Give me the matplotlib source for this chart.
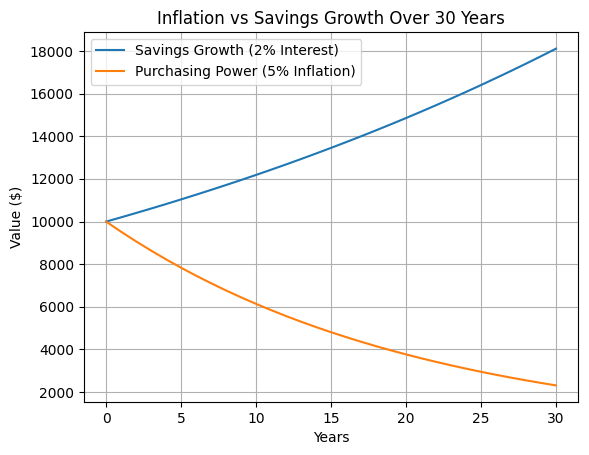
import matplotlib
matplotlib.use("Agg")
import matplotlib.pyplot as plt

years = list(range(0, 31))
savings = [10000, 10200, 10404, 10612, 10824, 11041, 11262, 11487, 11717, 11951,
           12190, 12434, 12682, 12936, 13195, 13459, 13728, 14002, 14282, 14568,
           14859, 15157, 15460, 15769, 16084, 16406, 16734, 17069, 17410, 17758, 18114]
purchasing = [10000, 9524, 9070, 8638, 8227, 7835, 7462, 7107, 6768, 6446,
              6139, 5847, 5568, 5303, 5051, 4810, 4581, 4363, 4155, 3957,
              3769, 3589, 3418, 3256, 3101, 2953, 2812, 2678, 2551, 2429, 2314]

fig, ax = plt.subplots(figsize=(5.89, 4.55), dpi=100)
fig.subplots_adjust(left=0.142, right=0.982, top=0.930, bottom=0.116)

ax.plot(years, savings, label='Savings Growth (2% Interest)')
ax.plot(years, purchasing, label='Purchasing Power (5% Inflation)')
ax.set_title('Inflation vs Savings Growth Over 30 Years')
ax.set_xlabel('Years')
ax.set_ylabel('Value ($)')
ax.legend(loc='upper left')
ax.grid(True)

fig.savefig('out.png', dpi=100)
